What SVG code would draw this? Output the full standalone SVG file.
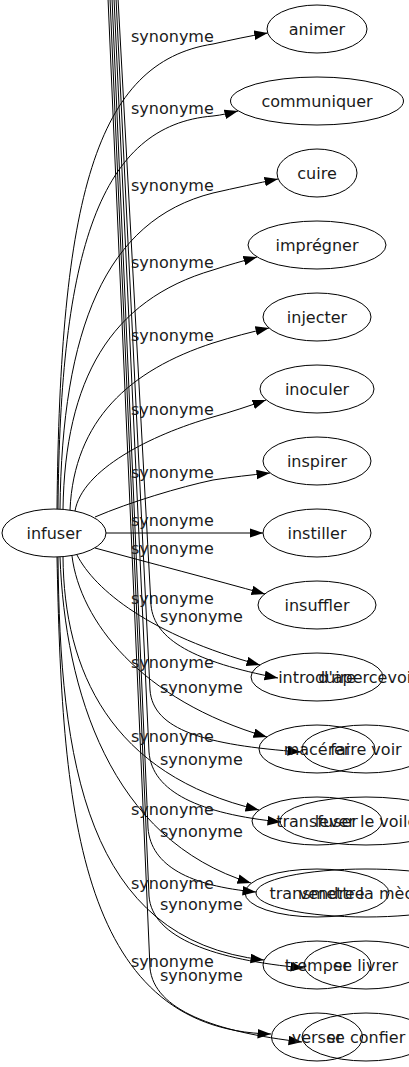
<svg xmlns="http://www.w3.org/2000/svg" width="409" height="1067" viewBox="0 0 409 1067">
<style>
.n ellipse{fill:none;stroke:#000;stroke-width:1}
.n text,.lb{font-family:"DejaVu Sans",sans-serif;font-size:16px;fill:#1a1a1a}
.n text{text-anchor:middle}
#edges path{fill:none;stroke:#000;stroke-width:1;marker-end:url(#ah)}
</style>
<defs>
<marker id="ah" markerWidth="15" markerHeight="11" refX="13.5" refY="4.8" orient="auto" markerUnits="userSpaceOnUse"><path d="M0,0 L13.5,4.8 L0,9.6 z" fill="#000"/></marker>
</defs>
<g id="edges">
<path d="M57,509 C60,200 95,62 213,44 C231,40 249,36 267.7,33"/>
<path d="M58,509 C60,250 100,125 213,116 C222,115 230,113 238,111"/>
<path d="M60,509 C62,330 105,220 213,193 C235,188 258,183 278,179"/>
<path d="M63,509 C65,380 110,300 213,270 C228,265 243,261 257,257"/>
<path d="M70,510 C74,420 130,370 213,343 C232,337 251,332 269,328"/>
<path d="M75,511 C82,470 150,435 213,417 C231,412 249,406 266,400"/>
<path d="M95,517 C130,502 180,487 213,480 C232,477 251,475 270,473"/>
<path d="M106,533 L263,533"/>
<path d="M95,548 C150,563 215,580 265,594"/>
<path d="M77,555 C95,590 150,635 260,665"/>
<path d="M72,556 C80,620 140,700 267,737"/>
<path d="M63,557 C64,670 110,775 259,810"/>
<path d="M60,557 C65,690 110,840 251,883"/>
<path d="M58,557 C60,760 85,940 264,960"/>
<path d="M57,557 C62,800 75,1030 271,1034"/>
<path d="M118,-2 L151,605 C154,640 195,662 278,678"/>
<path d="M116,-2 L150,690 C153,730 205,745 301,752"/>
<path d="M114,-2 L149,752 C152,792 200,814 281,822"/>
<path d="M112,-2 L148,828 C151,866 190,886 256,892"/>
<path d="M110,-2 L149,896 C152,938 215,960 304,968"/>
<path d="M108,-2 L150,968 C154,1010 215,1032 302,1042"/>
<text class="lb" x="131" y="41.5">synonyme</text>
<text class="lb" x="131" y="113.5">synonyme</text>
<text class="lb" x="131" y="190.5">synonyme</text>
<text class="lb" x="131" y="267.5">synonyme</text>
<text class="lb" x="131" y="340.5">synonyme</text>
<text class="lb" x="131" y="414.5">synonyme</text>
<text class="lb" x="131" y="477.5">synonyme</text>
<text class="lb" x="131" y="525.5">synonyme</text>
<text class="lb" x="131" y="553.5">synonyme</text>
<text class="lb" x="131" y="603.5">synonyme</text>
<text class="lb" x="131" y="667.5">synonyme</text>
<text class="lb" x="131" y="741.5">synonyme</text>
<text class="lb" x="131" y="814.5">synonyme</text>
<text class="lb" x="131" y="888.5">synonyme</text>
<text class="lb" x="131" y="966.5">synonyme</text>
<text class="lb" x="160" y="621.5">synonyme</text>
<text class="lb" x="160" y="692.5">synonyme</text>
<text class="lb" x="160" y="764.5">synonyme</text>
<text class="lb" x="160" y="836.5">synonyme</text>
<text class="lb" x="160" y="909.5">synonyme</text>
<text class="lb" x="160" y="980.5">synonyme</text>
</g>
<g id="infuser" class="n"><ellipse cx="54" cy="533" rx="52" ry="24"/><text x="54" y="538.5">infuser</text></g>
<g id="animer" class="n"><ellipse cx="317" cy="29" rx="50" ry="24"/><text x="317" y="34.5">animer</text></g>
<g id="communiquer" class="n"><ellipse cx="317" cy="101" rx="86.5" ry="24"/><text x="317" y="106.5">communiquer</text></g>
<g id="cuire" class="n"><ellipse cx="317" cy="173" rx="40" ry="24"/><text x="317" y="178.5">cuire</text></g>
<g id="impregner" class="n"><ellipse cx="317" cy="245" rx="69" ry="24"/><text x="317" y="250.5">imprégner</text></g>
<g id="injecter" class="n"><ellipse cx="317" cy="317" rx="54" ry="24"/><text x="317" y="322.5">injecter</text></g>
<g id="inoculer" class="n"><ellipse cx="317" cy="389" rx="57" ry="24"/><text x="317" y="394.5">inoculer</text></g>
<g id="inspirer" class="n"><ellipse cx="317" cy="461" rx="54" ry="24"/><text x="317" y="466.5">inspirer</text></g>
<g id="instiller" class="n"><ellipse cx="317" cy="533" rx="54" ry="24"/><text x="317" y="538.5">instiller</text></g>
<g id="insuffler" class="n"><ellipse cx="317" cy="605" rx="59" ry="24"/><text x="317" y="610.5">insuffler</text></g>
<g id="introduire" class="n"><ellipse cx="317" cy="677" rx="66" ry="24"/><text x="317" y="682.5">introduire</text></g>
<g id="macerer" class="n"><ellipse cx="317" cy="749" rx="58" ry="24"/><text x="317" y="754.5">macérer</text></g>
<g id="transfuser" class="n"><ellipse cx="317" cy="821" rx="65" ry="24"/><text x="317" y="826.5">transfuser</text></g>
<g id="transmettre" class="n"><ellipse cx="317" cy="893" rx="72" ry="24"/><text x="317" y="898.5">transmettre</text></g>
<g id="tremper" class="n"><ellipse cx="317" cy="965" rx="54" ry="24"/><text x="317" y="970.5">tremper</text></g>
<g id="verser" class="n"><ellipse cx="317" cy="1037" rx="45.5" ry="24"/><text x="317" y="1042.5">verser</text></g>
<g id="dapercevoir" class="n"><text x="368" y="682.5">d'apercevoir</text></g>
<g id="fairevoir" class="n"><ellipse cx="366" cy="749" rx="64" ry="24"/><text x="366" y="754.5">faire voir</text></g>
<g id="leverlevoile" class="n"><ellipse cx="366" cy="821" rx="86" ry="24"/><text x="366" y="826.5">lever le voile</text></g>
<g id="vendrelameche" class="n"><ellipse cx="366" cy="893" rx="110" ry="24"/><text x="366" y="898.5">vendre la mèche</text></g>
<g id="selivrer" class="n"><ellipse cx="366" cy="965" rx="62" ry="24"/><text x="366" y="970.5">se livrer</text></g>
<g id="seconfier" class="n"><ellipse cx="366" cy="1037" rx="64" ry="24"/><text x="366" y="1042.5">se confier</text></g>
</svg>
